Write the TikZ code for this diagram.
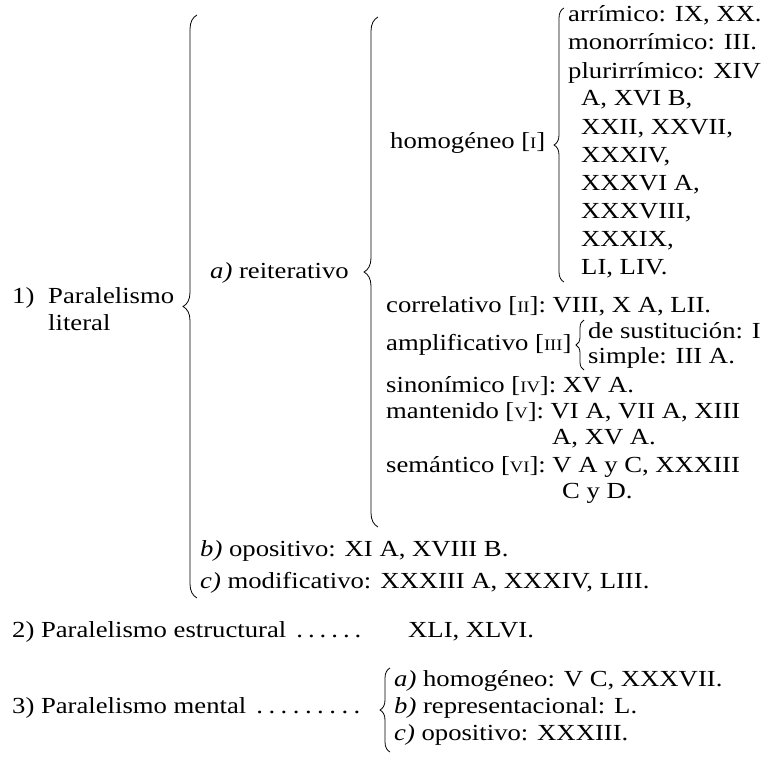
\documentclass[tikz,border=0pt]{standalone}
\usepackage{fontspec}
\setmainfont{Liberation Serif}[FakeStretch=1.16]
\usetikzlibrary{decorations.pathreplacing}

\newcommand{\rnum}[1]{{\fontsize{16}{16}\selectfont #1}}
\newcommand{\leaderdots}[2]{\foreach \d in {1,...,#1}{.\hspace{#2}}}

\begin{document}
\begin{tikzpicture}[x=1pt,y=-1pt,
    txt/.style={anchor=base west, inner sep=0pt, font=\fontsize{23}{28}\selectfont},
    brc/.style={decorate, decoration={brace, amplitude=#1}, line width=0.8pt},
    brc/.default=12pt]
\useasboundingbox (0,0) rectangle (771,760);

% 1) Paralelismo literal
\node[txt] (n1) at (12,303) {1)};
\node[txt] (par1) at (48,303) {Paralelismo};
\node[txt] (lit) at (48,330) {literal};
\coordinate (b1top) at (197,15);
\coordinate (b1bot) at (197,598);
\draw[brc=14pt] (b1bot) -- (b1top);

% a) reiterativo
\node[txt] (reit) at (210,278) {\textit{a)} reiterativo};
\coordinate (b2top) at (378,17);
\coordinate (b2bot) at (378,527);
\draw[brc=14pt] (b2bot) -- (b2top);

% homogeneo
\node[txt] (hom) at (390,148) {homogéneo [\rnum{I}]};
\coordinate (b3top) at (564,8);
\coordinate (b3bot) at (564,282);
\draw[brc=10pt] (b3bot) -- (b3top);
\node[txt] (h1) at (568,22) {arrímico: IX, XX.};
\node[txt] (h2) at (568,50) {monorrímico: III.};
\node[txt] (h3) at (568,78) {plurirrímico: XIV};
\node[txt] (h4) at (581,106) {A, XVI B,};
\node[txt] (h5) at (581,134) {XXII, XXVII,};
\node[txt] (h6) at (581,162) {XXXIV,};
\node[txt] (h7) at (581,190) {XXXVI A,};
\node[txt] (h8) at (581,218) {XXXVIII,};
\node[txt] (h9) at (581,246) {XXXIX,};
\node[txt] (h10) at (581,274) {LI, LIV.};

% correlativo ... semantico
\node[txt] (corr) at (386,312) {correlativo [\rnum{II}]: VIII, X A, LII.};
\node[txt] (ampl) at (386,350) {amplificativo [\rnum{III}]};
\coordinate (b5top) at (584,320);
\coordinate (b5bot) at (584,370);
\draw[brc=8pt] (b5bot) -- (b5top);
\node[txt] (sust) at (588,338) {de sustitución: I};
\node[txt] (simp) at (588,363) {simple: III A.};
\node[txt] (sino) at (386,392) {sinonímico [\rnum{IV}]: XV A.};
\node[txt] (mant) at (386,418) {mantenido [\rnum{V}]: VI A, VII A, XIII};
\node[txt] (mant2) at (552,444) {A, XV A.};
\node[txt] (sema) at (386,472) {semántico [\rnum{VI}]: V A y C, XXXIII};
\node[txt] (sema2) at (562,498) {C y D.};

% b) y c)
\node[txt] (opos) at (200,556) {\textit{b)} opositivo: XI A, XVIII B.};
\node[txt] (modi) at (200,588) {\textit{c)} modificativo: XXXIII A, XXXIV, LIII.};

% 2) Paralelismo estructural
\node[txt] (n2) at (12,637) {2)\ Paralelismo estructural\hspace{10pt}\leaderdots{6}{5pt}};
\node[txt] (estr) at (408,637) {XLI, XLVI.};

% 3) Paralelismo mental
\node[txt] (n3) at (12,713) {3)\ Paralelismo mental\hspace{10pt}\leaderdots{9}{5.5pt}};
\coordinate (b4top) at (390,668);
\coordinate (b4bot) at (390,752);
\draw[brc=10pt] (b4bot) -- (b4top);
\node[txt] (m1) at (394,686) {\textit{a)} homogéneo: V C, XXXVII.};
\node[txt] (m2) at (394,713) {\textit{b)} representacional: L.};
\node[txt] (m3) at (394,740) {\textit{c)} opositivo: XXXIII.};

\end{tikzpicture}
\end{document}
